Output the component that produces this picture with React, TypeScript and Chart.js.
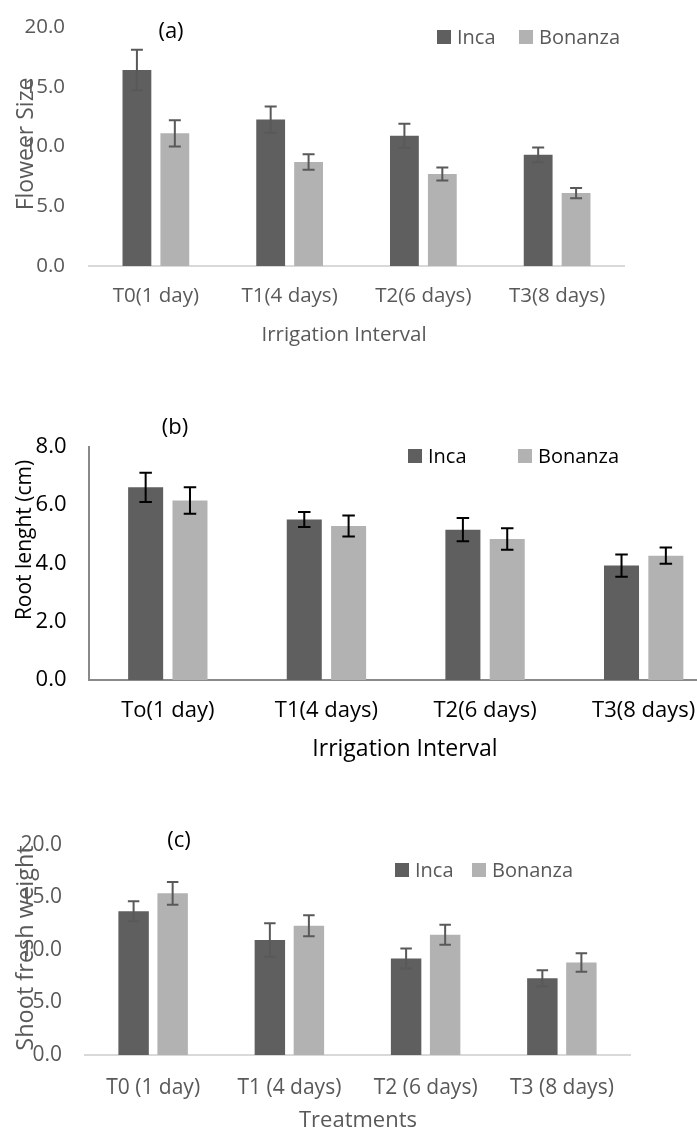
import React, { useEffect, useRef } from "react";
import { Chart, registerables } from "chart.js";

Chart.register(...registerables);
Chart.defaults.font.family = "'Open Sans', sans-serif";

// ---------- Data ----------
const seriesNames = ["Inca", "Bonanza"];
const seriesColors = ["#5f5f5f", "#b2b2b2"];

// (a) Flower size
const categoriesA = ["T0(1 day)", "T1(4 days)", "T2(6 days)", "T3(8 days)"];
const incaA = [16.4, 12.25, 10.9, 9.3];
const incaErrA = [1.7, 1.1, 1.0, 0.62];
const bonanzaA = [11.1, 8.7, 7.7, 6.1];
const bonanzaErrA = [1.1, 0.65, 0.55, 0.43];
const yMaxA = 20;
const yStepA = 5;

// (b) Root length
const categoriesB = ["To(1 day)", "T1(4 days)", "T2(6 days)", "T3(8 days)"];
const incaB = [6.6, 5.5, 5.15, 3.92];
const incaErrB = [0.5, 0.26, 0.4, 0.38];
const bonanzaB = [6.15, 5.28, 4.83, 4.26];
const bonanzaErrB = [0.45, 0.36, 0.37, 0.28];
const yMaxB = 8;
const yStepB = 2;

// (c) Shoot fresh weight
const categoriesC = ["T0 (1 day)", "T1 (4 days)", "T2 (6 days)", "T3 (8 days)"];
const incaC = [13.7, 10.95, 9.2, 7.3];
const incaErrC = [0.95, 1.6, 0.95, 0.78];
const bonanzaC = [15.4, 12.3, 11.45, 8.8];
const bonanzaErrC = [1.08, 1.0, 0.95, 0.88];
const yMaxC = 20;
const yStepC = 5;

const FONT = "'Open Sans', sans-serif";

type Spec = {
  top: number;
  width: number;
  height: number;
  labels: string[];
  values: number[][];
  errors: number[][];
  yMax: number;
  yStep: number;
  padTop: number;
  padRight: number;
  yWidth: number;
  xHeight: number;
  catPct: number;
  barPct: number;
  textColor: string;
  tickSize: number;
  xTickPad: number;
  yTickPad: number;
  xTitle: string;
  xTitleSize: number;
  xTitlePos: [number, number];
  xAxisColor: string;
  yAxisLine: boolean;
  errColor: string;
  errWidth: number;
  cap: number;
  panel: string;
  panelPos: [number, number];
  panelSize: number;
  legendX: number[];
  legendY: number;
  legendSize: number;
  legendColor: string;
  yTitle: string;
  yTitlePos: [number, number];
  yTitleSize: number;
};

const specs: Spec[] = [
  {
    top: 0,
    width: 697,
    height: 348,
    labels: categoriesA,
    values: [incaA, bonanzaA],
    errors: [incaErrA, bonanzaErrA],
    yMax: yMaxA,
    yStep: yStepA,
    padTop: 27,
    padRight: 73,
    yWidth: 89,
    xHeight: 82,
    catPct: 0.567,
    barPct: 0.76,
    textColor: "#595959",
    tickSize: 20.5,
    xTickPad: 18,
    yTickPad: 24,
    xTitle: "Irrigation Interval",
    xTitleSize: 20.5,
    xTitlePos: [344, 335],
    xAxisColor: "#d9d9d9",
    yAxisLine: false,
    errColor: "#595959",
    errWidth: 2,
    cap: 12,
    panel: "(a)",
    panelPos: [171, 32],
    panelSize: 22,
    legendX: [437, 519],
    legendY: 37,
    legendSize: 20,
    legendColor: "#595959",
    yTitle: "Floweer Size",
    yTitlePos: [26, 144],
    yTitleSize: 23,
  },
  {
    top: 352,
    width: 760,
    height: 418,
    labels: categoriesB,
    values: [incaB, bonanzaB],
    errors: [incaErrB, bonanzaErrB],
    yMax: yMaxB,
    yStep: yStepB,
    padTop: 94.5,
    padRight: 37,
    yWidth: 88.5,
    xHeight: 90,
    catPct: 0.559,
    barPct: 0.79,
    textColor: "#000000",
    tickSize: 22,
    xTickPad: 18,
    yTickPad: 22,
    xTitle: "Irrigation Interval",
    xTitleSize: 23,
    xTitlePos: [405, 397],
    xAxisColor: "#898989",
    yAxisLine: true,
    errColor: "#000000",
    errWidth: 2,
    cap: 12.5,
    panel: "(b)",
    panelPos: [175, 76],
    panelSize: 22,
    legendX: [408, 518],
    legendY: 104,
    legendSize: 20,
    legendColor: "#000000",
    yTitle: "Root lenght (cm)",
    yTitlePos: [25, 188],
    yTitleSize: 21,
  },
  {
    top: 780,
    width: 697,
    height: 355,
    labels: categoriesC,
    values: [incaC, bonanzaC],
    errors: [incaErrC, bonanzaErrC],
    yMax: yMaxC,
    yStep: yStepC,
    padTop: 65,
    padRight: 67,
    yWidth: 85,
    xHeight: 80,
    catPct: 0.573,
    barPct: 0.78,
    textColor: "#595959",
    tickSize: 21,
    xTickPad: 20,
    yTickPad: 23,
    xTitle: "Treatments",
    xTitleSize: 22,
    xTitlePos: [358, 341],
    xAxisColor: "#d9d9d9",
    yAxisLine: false,
    errColor: "#595959",
    errWidth: 2,
    cap: 11.5,
    panel: "(c)",
    panelPos: [179, 61],
    panelSize: 22,
    legendX: [395, 472],
    legendY: 90,
    legendSize: 20,
    legendColor: "#595959",
    yTitle: "Shoot fresh weight",
    yTitlePos: [26, 168],
    yTitleSize: 23.5,
  },
];

function overlayPlugin(spec: Spec) {
  return {
    id: "overlay",
    afterDatasetsDraw(chart: any) {
      const ctx = chart.ctx as CanvasRenderingContext2D;
      const yScale = chart.scales.y;
      ctx.save();
      // error bars
      chart.data.datasets.forEach((ds: any, i: number) => {
        const meta = chart.getDatasetMeta(i);
        meta.data.forEach((bar: any, j: number) => {
          const v = ds.data[j];
          const e = spec.errors[i][j];
          const yt = yScale.getPixelForValue(v + e);
          const yb = yScale.getPixelForValue(v - e);
          const x = bar.x;
          ctx.strokeStyle = spec.errColor;
          ctx.lineWidth = spec.errWidth;
          ctx.beginPath();
          ctx.moveTo(x, yt);
          ctx.lineTo(x, yb);
          ctx.moveTo(x - spec.cap / 2, yt);
          ctx.lineTo(x + spec.cap / 2, yt);
          ctx.moveTo(x - spec.cap / 2, yb);
          ctx.lineTo(x + spec.cap / 2, yb);
          ctx.stroke();
        });
      });
      // legend
      ctx.textBaseline = "middle";
      ctx.textAlign = "left";
      ctx.font = `${spec.legendSize}px ${FONT}`;
      chart.data.datasets.forEach((ds: any, i: number) => {
        const lx = spec.legendX[i];
        ctx.fillStyle = ds.backgroundColor;
        ctx.fillRect(lx, spec.legendY - 7, 14, 14);
        ctx.fillStyle = spec.legendColor;
        ctx.fillText(ds.label, lx + 20, spec.legendY + 1);
      });
      // panel label
      ctx.fillStyle = "#000000";
      ctx.textAlign = "center";
      ctx.font = `${spec.panelSize}px ${FONT}`;
      ctx.fillText(spec.panel, spec.panelPos[0], spec.panelPos[1]);
      // x title
      ctx.fillStyle = spec.textColor;
      ctx.font = `${spec.xTitleSize}px ${FONT}`;
      ctx.fillText(spec.xTitle, spec.xTitlePos[0], spec.xTitlePos[1]);
      // y title (overlapping tick labels, as in the reference)
      ctx.save();
      ctx.translate(spec.yTitlePos[0], spec.yTitlePos[1]);
      ctx.rotate(-Math.PI / 2);
      ctx.fillStyle = spec.textColor;
      ctx.font = `${spec.yTitleSize}px ${FONT}`;
      ctx.textAlign = "center";
      ctx.fillText(spec.yTitle, 0, 0);
      ctx.restore();
      ctx.restore();
    },
  };
}

function makeConfig(spec: Spec): any {
  return {
    type: "bar",
    data: {
      labels: spec.labels,
      datasets: spec.values.map((vals, i) => ({
        label: seriesNames[i],
        data: vals,
        backgroundColor: seriesColors[i],
        borderWidth: 0,
        categoryPercentage: spec.catPct,
        barPercentage: spec.barPct,
      })),
    },
    options: {
      responsive: false,
      maintainAspectRatio: false,
      animation: false,
      devicePixelRatio: 1,
      layout: { padding: { left: 0, right: spec.padRight, top: spec.padTop, bottom: 0 } },
      plugins: {
        legend: { display: false },
        tooltip: { enabled: false },
        title: { display: false },
      },
      scales: {
        x: {
          grid: { display: false, drawTicks: false },
          border: { display: true, color: spec.xAxisColor, width: 2 },
          ticks: {
            color: spec.textColor,
            font: { family: FONT, size: spec.tickSize },
            padding: spec.xTickPad,
            maxRotation: 0,
            autoSkip: false,
          },
          title: { display: false },
          afterFit: (s: any) => {
            s.height = spec.xHeight;
          },
        },
        y: {
          min: 0,
          max: spec.yMax,
          grid: { display: false, drawTicks: false },
          border: { display: spec.yAxisLine, color: spec.xAxisColor, width: 2 },
          ticks: {
            stepSize: spec.yStep,
            color: spec.textColor,
            font: { family: FONT, size: spec.tickSize },
            padding: spec.yTickPad,
            callback: (v: any) => Number(v).toFixed(1),
          },
          afterFit: (s: any) => {
            s.width = spec.yWidth;
            s.paddingTop = 0;
            s.paddingBottom = 0;
          },
        },
      },
    },
    plugins: [overlayPlugin(spec)],
  };
}

function Panel({ spec }: { spec: Spec }) {
  const ref = useRef<HTMLCanvasElement | null>(null);
  useEffect(() => {
    if (!ref.current) return;
    const chart = new Chart(ref.current, makeConfig(spec));
    return () => chart.destroy();
  }, [spec]);
  return (
    <canvas
      ref={ref}
      width={spec.width}
      height={spec.height}
      style={{
        position: "absolute",
        left: 0,
        top: spec.top,
        width: spec.width,
        height: spec.height,
        display: "block",
      }}
    />
  );
}

export default function App() {
  return (
    <div
      style={{
        position: "fixed",
        left: 0,
        top: 0,
        width: 697,
        height: 1135,
        overflow: "hidden",
        background: "#ffffff",
      }}
    >
      {specs.map((s, i) => (
        <Panel key={i} spec={s} />
      ))}
    </div>
  );
}
